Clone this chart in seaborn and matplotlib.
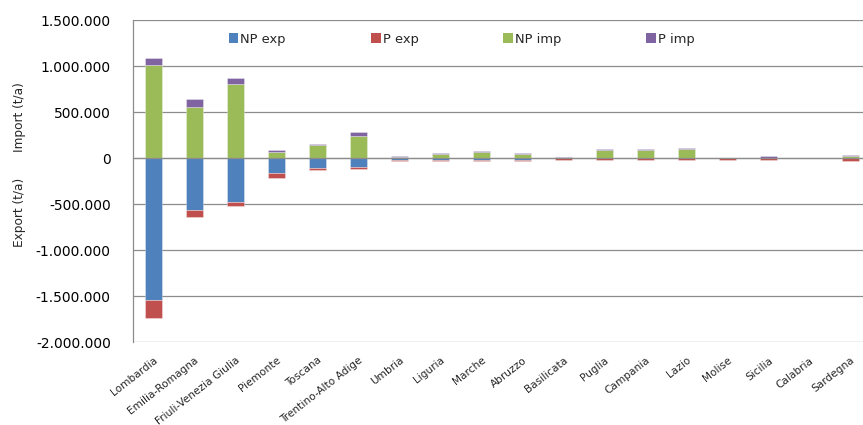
import numpy as np
import pandas as pd
import matplotlib
matplotlib.use("Agg")
import matplotlib.pyplot as plt
from matplotlib.patches import Patch
from matplotlib.ticker import FuncFormatter, FixedLocator
import seaborn as sns

categories = ["Lombardia", "Emilia-Romagna", "Friuli-Venezia Giulia", "Piemonte", "Toscana",
              "Trentino-Alto Adige", "Umbria", "Liguria", "Marche", "Abruzzo", "Basilicata",
              "Puglia", "Campania", "Lazio", "Molise", "Sicilia", "Calabria", "Sardegna"]

np_exp = [1540000, 568000, 475000, 160000, 109000, 98000, 18000, 22000, 22000, 22000,
          3000, 3000, 3000, 3000, 2000, 2000, 2000, 3000]
p_exp = [200000, 70000, 47000, 57000, 18000, 18000, 13000, 10000, 10000, 10000,
         18000, 18000, 18000, 18000, 16000, 18000, 3000, 30000]
np_imp = [1011000, 558000, 804000, 68000, 141000, 243000, 16000, 44000, 62000, 44000,
          3000, 84000, 84000, 95000, 2000, 3000, 2000, 25000]
p_imp = [73000, 80000, 66000, 19000, 11000, 40000, 10000, 10000, 15000, 8000,
         12000, 18000, 18000, 18000, 1000, 15000, 3000, 5000]

series_names = ["NP exp", "P exp", "NP imp", "P imp"]
colors = {"NP exp": "#4F81BD", "P exp": "#C0504D", "NP imp": "#9BBB59", "P imp": "#8064A2"}
yticks = [1500000, 1000000, 500000, 0, -500000, -1000000, -1500000, -2000000]

sns.set_style("white")
plt.rcParams["font.family"] = ["DejaVu Sans"]

fig = plt.figure(figsize=(8.63, 4.25), dpi=100)
ax = fig.add_axes([133 / 863, 1 - 342 / 425, 1 - 133 / 863, (342 - 20) / 425])

df = pd.DataFrame({"region": categories,
                   "np_exp": -np.array(np_exp, float),
                   "p_exp": -np.array(p_exp, float),
                   "np_imp": np.array(np_imp, float),
                   "p_imp": np.array(p_imp, float)})

edge = (1, 1, 1, 0.45)
common = dict(x="region", order=categories, width=0.4, saturation=1, errorbar=None,
              edgecolor=edge, linewidth=0.5, ax=ax, zorder=3)
sns.barplot(data=df, y="np_exp", color=colors["NP exp"], **common)
sns.barplot(data=df, y="p_exp", bottom=df["np_exp"], color=colors["P exp"], **common)
sns.barplot(data=df, y="np_imp", color=colors["NP imp"], **common)
sns.barplot(data=df, y="p_imp", bottom=df["np_imp"], color=colors["P imp"], **common)

n = len(categories)
ax.set_xlim(-0.5, -0.5 + 730 / 41)
ax.set_ylim(-2000000, 1500000)
ax.set_xlabel("")
ax.set_ylabel("")

# y axis
ax.yaxis.set_major_locator(FixedLocator(yticks))
ax.yaxis.set_major_formatter(FuncFormatter(lambda v, p: f"{int(round(v)):,}".replace(",", ".")))
ax.tick_params(axis="y", length=0, pad=16, labelsize=10, labelcolor="black")
ax.yaxis.grid(True, color="#8c8c8c", linewidth=0.9, zorder=0)
ax.set_axisbelow(True)

# x axis line at zero with boundary ticks
for s in ["top", "right"]:
    ax.spines[s].set_visible(False)
ax.spines["left"].set_color("#8c8c8c")
ax.spines["left"].set_linewidth(0.9)
ax.spines["bottom"].set_position(("data", 0))
ax.spines["bottom"].set_color("#8c8c8c")
ax.spines["bottom"].set_linewidth(0.9)
ax.spines["bottom"].set_zorder(4)
ax.set_xticks(np.arange(n - 1) + 0.5)
ax.set_xticklabels([])
ax.tick_params(axis="x", direction="out", length=4, width=0.9, color="#8c8c8c")

sec = ax.secondary_xaxis(0.0)
sec.set_xticks(np.arange(n))
sec.set_xticklabels(categories, rotation=38, ha="right", va="top", rotation_mode="anchor", fontsize=7.6)
sec.tick_params(length=0, pad=9.5)
sec.spines["bottom"].set_visible(False)

# legend
handles = [Patch(facecolor=colors[s], edgecolor="none") for s in series_names]
fig.legend(handles, series_names, loc="center", bbox_to_anchor=(0.535, 0.908), ncol=4,
           frameon=False, fontsize=9.4, handlelength=0.75, handleheight=0.75,
           handletextpad=0.15, columnspacing=6.5)

fig.text(20 / 863, 1 - 117 / 425, "Import (t/a)", rotation=90, ha="center", va="center", fontsize=8.7)
fig.text(20 / 863, 1 - 212 / 425, "Export (t/a)", rotation=90, ha="center", va="center", fontsize=8.7)

fig.savefig("out.png", dpi=100)
